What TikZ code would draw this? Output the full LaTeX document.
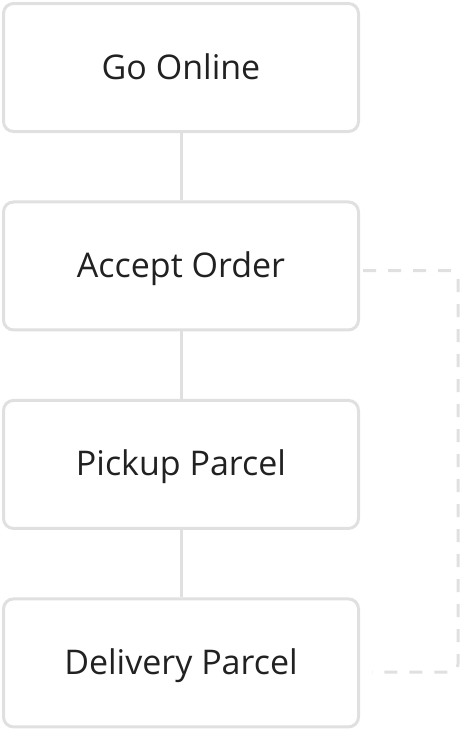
\documentclass[tikz,border=0pt]{standalone}
\usepackage{fontspec}
\setmainfont{Open Sans}
\usetikzlibrary{positioning}
\definecolor{edgegray}{RGB}{224,224,224}
\definecolor{inkdark}{RGB}{33,33,33}
\tikzset{
  stepbox/.style={draw=edgegray, line width=2.25pt, rounded corners=7.5pt,
    minimum width=266.25pt, minimum height=96pt, fill=white,
    text=inkdark, font=\fontsize{25.5}{30}\selectfont,
    text height=18.3pt, text depth=1pt},
  link/.style={draw=edgegray, line width=2.25pt},
  dashlink/.style={draw=edgegray, line width=2.25pt, rounded corners=6pt,
    dash pattern=on 9.75pt off 9pt}
}
\begin{document}
\begin{tikzpicture}[x=0.75pt, y=-0.75pt, node distance=50.6pt]
  \useasboundingbox (0,0) rectangle (462,732);
  % steps
  \node[stepbox] (online) at (181,67.5) {Go Online};
  \node[stepbox, below=of online] (accept) {Accept Order};
  \node[stepbox, below=of accept] (pickup) {Pickup Parcel};
  \node[stepbox, below=of pickup] (delivery) {Delivery Parcel};
  % solid links
  \draw[link] (online) -- (accept);
  \draw[link] (accept) -- (pickup);
  \draw[link] (pickup) -- (delivery);
  % dashed return
  \coordinate (acceptout) at (363,270.5);
  \coordinate (deliveryin) at (372,672);
  \coordinate (turn) at (458,0);
  \draw[dashlink] (acceptout) -| (turn |- deliveryin) -- (deliveryin);
\end{tikzpicture}
\end{document}
